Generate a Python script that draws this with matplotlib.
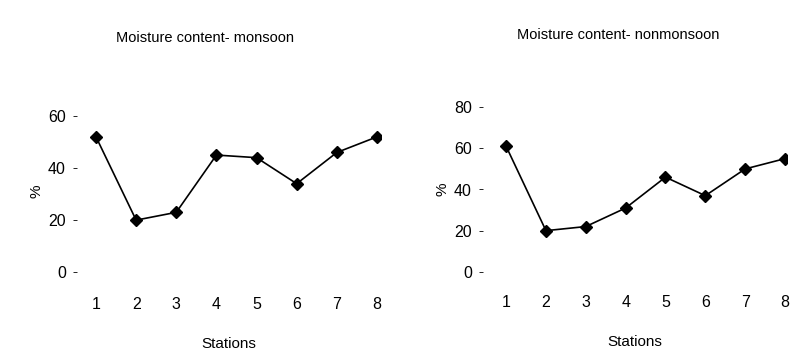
import matplotlib.pyplot as plt

plt.rcParams['font.family'] = ['Liberation Sans', 'DejaVu Sans']

stations = [1, 2, 3, 4, 5, 6, 7, 8]
monsoon = [52, 20, 23, 45, 44, 34, 46, 52]
nonmonsoon = [61, 20, 22, 31, 46, 37, 50, 55]

W, H = 809, 354
fig = plt.figure(figsize=(W / 100, H / 100), dpi=100)


def px_axes(left, top, width, height):
    # axes placed in pixel units measured from the top-left corner
    return fig.add_axes([left / W, 1 - (top + height) / H, width / W, height / H])


def style(ax, yticks):
    for s in ax.spines.values():
        s.set_visible(False)
    ax.set_xticks(stations)
    ax.set_yticks(yticks)
    ax.tick_params(axis='x', length=0, pad=12, labelsize=11.5)
    ax.tick_params(axis='y', length=3, width=0.6, pad=5, labelsize=11.5)
    ax.set_xlabel('Stations', fontsize=11, labelpad=18)
    ax.set_ylabel('%', fontsize=11, labelpad=3)


ax1 = px_axes(77, 103, 304, 177)
ax1.plot(stations, monsoon, color='black', lw=1.2, marker='D', ms=6.5,
         mfc='black', mec='black')
ax1.set_xlim(0.527, 8.1)
ax1.set_ylim(-3, 65)
style(ax1, [0, 20, 40, 60])

ax2 = px_axes(483, 101, 304, 177)
ax2.plot(stations, nonmonsoon, color='black', lw=1.2, marker='D', ms=6.5,
         mfc='black', mec='black')
ax2.set_xlim(0.42, 8.05)
ax2.set_ylim(-3, 83)
style(ax2, [0, 20, 40, 60, 80])

fig.text(205 / W, 1 - 38 / H, 'Moisture content- monsoon', ha='center', va='center', fontsize=10.5)
fig.text(618 / W, 1 - 35 / H, 'Moisture content- nonmonsoon', ha='center', va='center', fontsize=10.5)

fig.savefig('out.png', dpi=100)
